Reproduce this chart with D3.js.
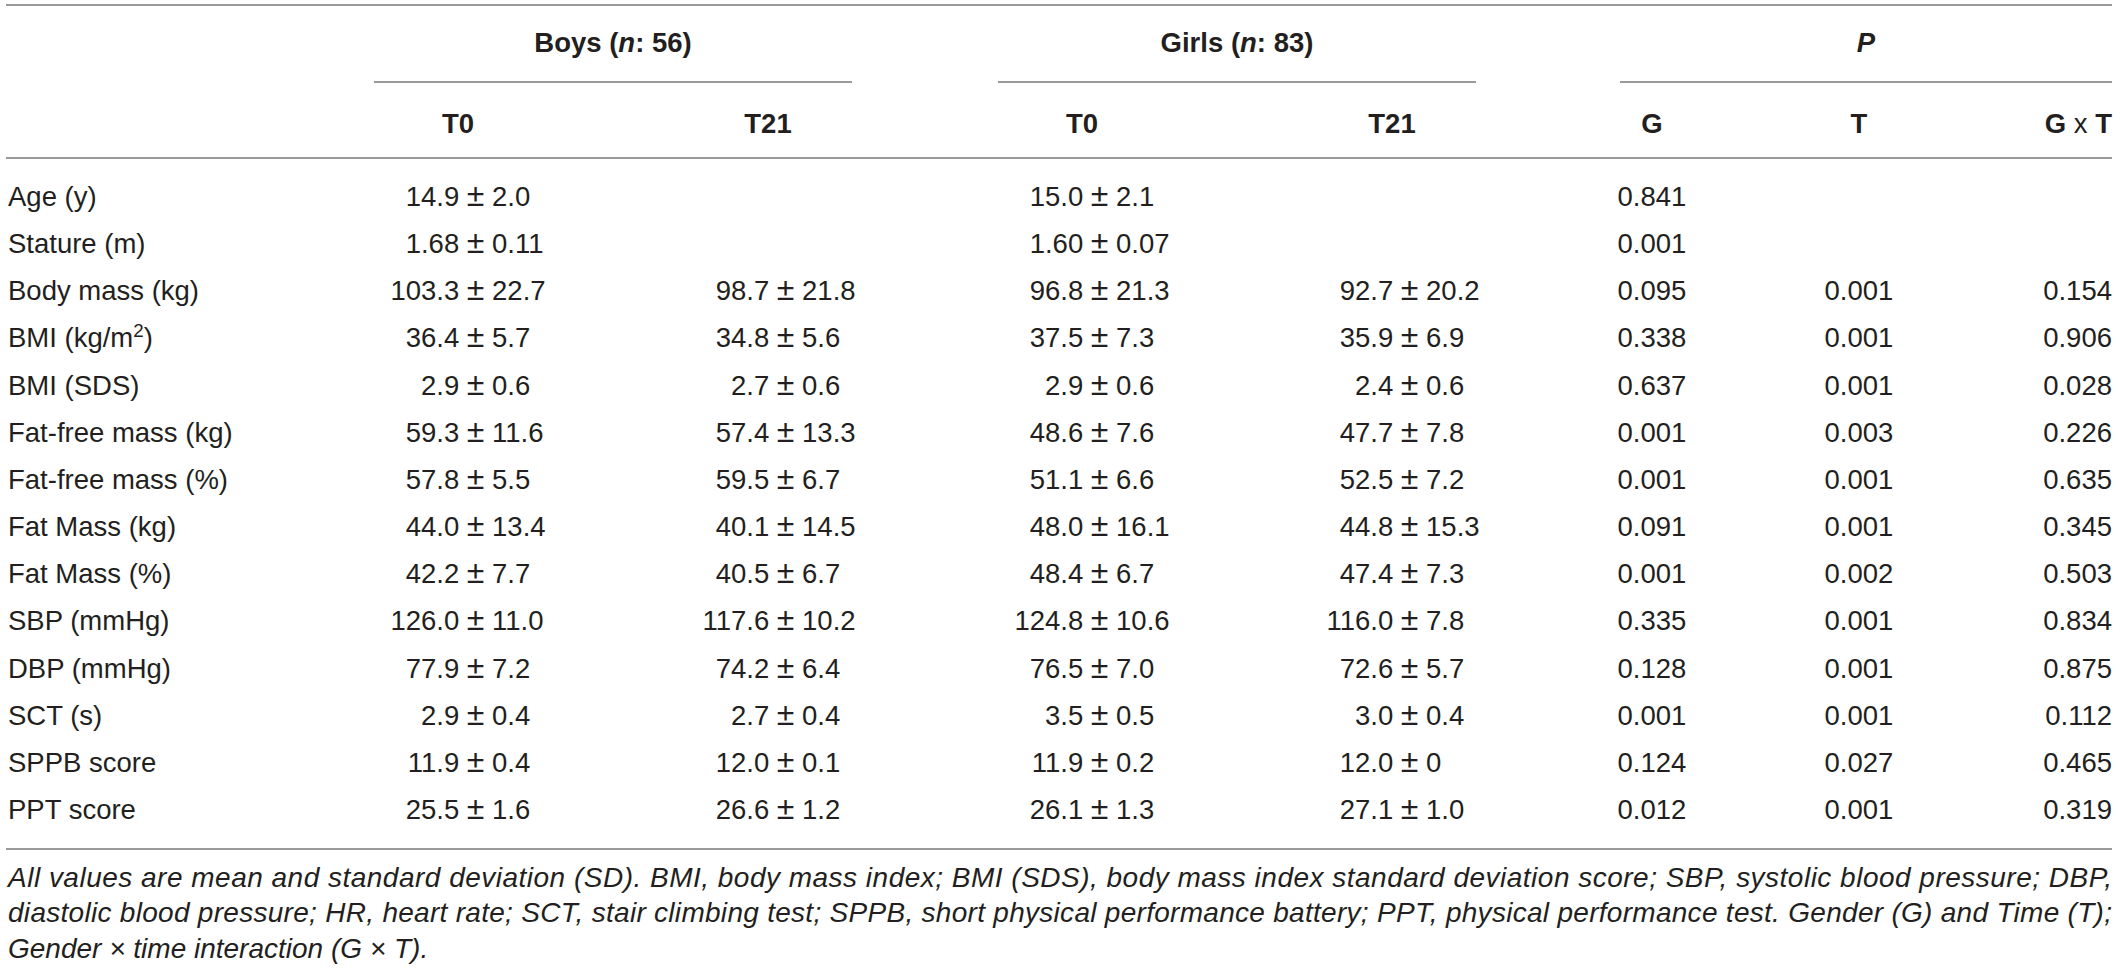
<!DOCTYPE html>
<html>
<head>
<meta charset="utf-8">
<script src="https://cdn.jsdelivr.net/npm/d3@7"></script>
<style>
  html, body { margin: 0; padding: 0; background: #fff; }
  svg { display: block; }
  text { font-family: "Liberation Sans", Arial, Helvetica, sans-serif; fill: #231f20; }
</style>
</head>
<body>
<svg id="chart" width="2120" height="968"></svg>
<script>
// ---------- data ----------
const rowLabels = ["Age (y)", "Stature (m)", "Body mass (kg)", "BMI (kg/m^2)", "BMI (SDS)",
  "Fat-free mass (kg)", "Fat-free mass (%)", "Fat Mass (kg)", "Fat Mass (%)",
  "SBP (mmHg)", "DBP (mmHg)", "SCT (s)", "SPPB score", "PPT score"];

const boysT0 = ["14.9 ± 2.0", "1.68 ± 0.11", "103.3 ± 22.7", "36.4 ± 5.7", "2.9 ± 0.6",
  "59.3 ± 11.6", "57.8 ± 5.5", "44.0 ± 13.4", "42.2 ± 7.7", "126.0 ± 11.0",
  "77.9 ± 7.2", "2.9 ± 0.4", "11.9 ± 0.4", "25.5 ± 1.6"];
const boysT21 = ["", "", "98.7 ± 21.8", "34.8 ± 5.6", "2.7 ± 0.6",
  "57.4 ± 13.3", "59.5 ± 6.7", "40.1 ± 14.5", "40.5 ± 6.7", "117.6 ± 10.2",
  "74.2 ± 6.4", "2.7 ± 0.4", "12.0 ± 0.1", "26.6 ± 1.2"];
const girlsT0 = ["15.0 ± 2.1", "1.60 ± 0.07", "96.8 ± 21.3", "37.5 ± 7.3", "2.9 ± 0.6",
  "48.6 ± 7.6", "51.1 ± 6.6", "48.0 ± 16.1", "48.4 ± 6.7", "124.8 ± 10.6",
  "76.5 ± 7.0", "3.5 ± 0.5", "11.9 ± 0.2", "26.1 ± 1.3"];
const girlsT21 = ["", "", "92.7 ± 20.2", "35.9 ± 6.9", "2.4 ± 0.6",
  "47.7 ± 7.8", "52.5 ± 7.2", "44.8 ± 15.3", "47.4 ± 7.3", "116.0 ± 7.8",
  "72.6 ± 5.7", "3.0 ± 0.4", "12.0 ± 0", "27.1 ± 1.0"];
const pG = ["0.841", "0.001", "0.095", "0.338", "0.637", "0.001", "0.001",
  "0.091", "0.001", "0.335", "0.128", "0.001", "0.124", "0.012"];
const pT = ["", "", "0.001", "0.001", "0.001", "0.003", "0.001",
  "0.001", "0.002", "0.001", "0.001", "0.001", "0.027", "0.001"];
const pGxT = ["", "", "0.154", "0.906", "0.028", "0.226", "0.635",
  "0.345", "0.503", "0.834", "0.875", "0.112", "0.465", "0.319"];

const groupHeaders = [
  { pre: "Boys (", it: "n", post: ": 56)", cols: ["bT0", "bT21"] },
  { pre: "Girls (", it: "n", post: ": 83)", cols: ["gT0", "gT21"] },
  { pre: "", it: "P", post: "", cols: ["G", "T", "GxT"] }
];
const subHeaders = ["T0", "T21", "T0", "T21", "G", "T", "G x T"];

const footnotes = [
  "All values are mean and standard deviation (SD). BMI, body mass index; BMI (SDS), body mass index standard deviation score; SBP, systolic blood pressure; DBP,",
  "diastolic blood pressure; HR, heart rate; SCT, stair climbing test; SPPB, short physical performance battery; PPT, physical performance test. Gender (G) and Time (T);",
  "Gender × time interaction (G × T)."
];

// ---------- layout ----------
const W = 2120, H = 968;
const left = 8, right = 2112;
const bodySize = 27.5, headSize = 27.5, footSize = 28, pmSize = 32;
const lineColor = "#9a9a9a";

const columns = [
  { key: "bT0", values: boysT0, kind: "pm" },
  { key: "bT21", values: boysT21, kind: "pm" },
  { key: "gT0", values: girlsT0, kind: "pm" },
  { key: "gT21", values: girlsT21, kind: "pm" },
  { key: "G", values: pG, kind: "center" },
  { key: "T", values: pT, kind: "center" },
  { key: "GxT", values: pGxT, kind: "right" }
];
const colX = d3.scaleOrdinal().domain(columns.map(c => c.key))
  .range([458, 768, 1082, 1392, 1652, 1859, right]);
const pmOffset = 10;
const groupSpan = { bT0: [374, 852], gT0: [998, 1476], G: [1620, right] };

const y = d3.scalePoint().domain(d3.range(rowLabels.length)).range([206, 819]);

const svg = d3.select("#chart");
svg.append("rect").attr("width", W).attr("height", H).attr("fill", "#fff");

// ---------- rules ----------
const hline = (x1, x2, yy) => svg.append("line")
  .attr("x1", x1).attr("x2", x2).attr("y1", yy).attr("y2", yy)
  .attr("stroke", lineColor).attr("stroke-width", 2);
hline(left - 2, right, 5);
hline(left - 2, right, 158);
hline(left - 2, right, 849);
groupHeaders.forEach(g => {
  const s = groupSpan[g.cols[0]];
  hline(s[0], s[1], 82);
});

// ---------- group headers ----------
groupHeaders.forEach(g => {
  const s = groupSpan[g.cols[0]];
  const t = svg.append("text")
    .attr("x", (s[0] + s[1]) / 2).attr("y", 52)
    .attr("text-anchor", "middle")
    .attr("font-size", headSize).attr("font-weight", "bold");
  if (g.pre) t.append("tspan").text(g.pre);
  t.append("tspan").attr("font-style", "italic").text(g.it);
  if (g.post) t.append("tspan").text(g.post);
});

// ---------- sub headers ----------
columns.forEach((c, i) => {
  const t = svg.append("text")
    .attr("x", colX(c.key)).attr("y", 133)
    .attr("text-anchor", c.kind === "right" ? "end" : "middle")
    .attr("font-size", headSize).attr("font-weight", "bold");
  const label = subHeaders[i];
  if (label.includes(" x ")) {
    const parts = label.split(" x ");
    t.append("tspan").text(parts[0] + " ");
    t.append("tspan").attr("font-weight", "normal").text("x");
    t.append("tspan").text(" " + parts[1]);
  } else {
    t.text(label);
  }
});

// ---------- row labels ----------
rowLabels.forEach((lab, i) => {
  const t = svg.append("text").attr("x", left).attr("y", y(i))
    .attr("font-size", bodySize);
  if (lab.includes("^")) {
    const m = lab.match(/^(.*)\^(\d)(.*)$/);
    t.append("tspan").text(m[1]);
    t.append("tspan").attr("font-size", bodySize * 0.68).attr("dy", -10).text(m[2]);
    t.append("tspan").attr("dy", 10).text(m[3]);
  } else {
    t.text(lab);
  }
});

// ---------- measure helper ----------
const meas = svg.append("text").attr("x", -1000).attr("y", -1000);
const widthOf = (s, size) => {
  meas.attr("font-size", size).text(s);
  return meas.node().getComputedTextLength();
};
const pmHalf = widthOf("±", pmSize) / 2;

// ---------- cells ----------
columns.forEach(c => {
  c.values.forEach((v, i) => {
    if (!v) return;
    const t = svg.append("text").attr("y", y(i)).attr("font-size", bodySize);
    if (c.kind === "pm") {
      const parts = v.split("±");
      const pre = parts[0], post = parts[1];
      const px = colX(c.key) + pmOffset;
      t.attr("x", px - widthOf(pre, bodySize) - pmHalf).attr("text-anchor", "start");
      t.append("tspan").text(pre);
      t.append("tspan").attr("font-size", pmSize).text("±");
      t.append("tspan").text(post);
    } else if (c.kind === "center") {
      t.attr("x", colX(c.key)).attr("text-anchor", "middle").text(v);
    } else {
      t.attr("x", colX(c.key)).attr("text-anchor", "end").text(v);
    }
  });
});
meas.remove();

// ---------- footnotes ----------
const fy = [887, 922, 958];
footnotes.forEach((f, i) => {
  const t = svg.append("text").attr("x", left).attr("y", fy[i])
    .attr("font-size", footSize).attr("font-style", "italic").text(f);
  if (i < footnotes.length - 1) {
    t.attr("textLength", right - left).attr("lengthAdjust", "spacing");
  }
});
</script>
</body>
</html>
